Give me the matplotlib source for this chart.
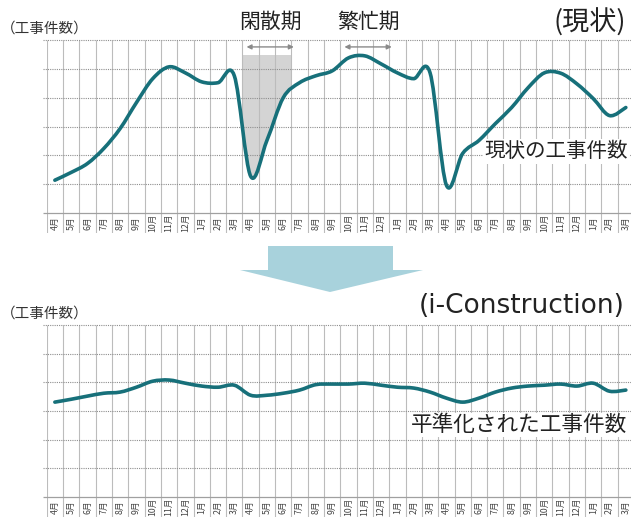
import numpy as np
import matplotlib.pyplot as plt
from matplotlib.path import Path
from matplotlib.patches import PathPatch, Polygon, Rectangle

plt.rcParams['font.family'] = ['Noto Sans CJK JP', 'DejaVu Sans']

# 月ラベル (4月〜3月 を3年度分)
months = ['4月', '5月', '6月', '7月', '8月', '9月', '10月', '11月', '12月', '1月', '2月', '3月'] * 3

# 現状の工事件数 (グリッド単位)
current = [1.14, 1.41, 1.72, 2.24, 2.93, 3.83, 4.66, 5.07, 4.86, 4.55, 4.52, 4.76,
           1.28, 2.52, 4.00, 4.52, 4.76, 4.93, 5.38, 5.45, 5.17, 4.86, 4.66, 4.86,
           0.97, 2.07, 2.52, 3.10, 3.66, 4.34, 4.86, 4.85, 4.48, 3.97, 3.38, 3.66]

# 平準化された工事件数
levelled = [3.31, 3.41, 3.52, 3.62, 3.66, 3.83, 4.04, 4.08, 3.97, 3.87, 3.83, 3.90,
            3.55, 3.55, 3.62, 3.73, 3.92, 3.94, 3.94, 3.97, 3.90, 3.83, 3.80, 3.66,
            3.45, 3.31, 3.45, 3.66, 3.80, 3.87, 3.90, 3.94, 3.87, 3.97, 3.69, 3.73]

# 閑散期・繁忙期 (月インデックスの範囲)
quiet = (12, 15)
busy = (18, 21)

W, H = 631, 522
LINE = '#17707a'


def box(left, top, right, bottom):
    return [left / W, 1 - bottom / H, (right - left) / W, (bottom - top) / H]


def smooth_path(x, y):
    # Catmull-Rom -> 3次ベジェ
    p = np.column_stack([x, y])
    q = np.vstack([p[0], p, p[-1]])
    verts = [p[0]]
    codes = [Path.MOVETO]
    for i in range(len(p) - 1):
        p0, p1, p2, p3 = q[i], q[i + 1], q[i + 2], q[i + 3]
        verts += [p1 + (p2 - p0) / 6, p2 - (p3 - p1) / 6, p2]
        codes += [Path.CURVE4] * 3
    return Path(np.array(verts), codes)


def panel(ax, values, depth):
    n = len(months)
    ax.set_xlim(0, n)
    ax.set_ylim(-depth, 6)
    ax.axis('off')
    ax.vlines(np.arange(n + 1), -depth, 6, color='#bcbcbc', lw=0.8)
    ax.hlines(np.arange(1, 7), -0.2, n, color='#8e8e8e', lw=0.8, linestyles=(0, (1, 1)),
              clip_on=False)
    ax.hlines(0, -0.2, n, color='#a0a0a0', lw=0.9, clip_on=False)
    for i, m in enumerate(months):
        ax.text(i + 0.5, -depth / 2, m, rotation=90, ha='center', va='center',
                fontsize=6.3, color='#444444')
    x = np.arange(n) + 0.5
    path = smooth_path(x, np.array(values))
    ax.add_patch(PathPatch(path, fill=False, edgecolor=LINE, lw=2.6,
                           capstyle='round', joinstyle='round', zorder=5))
    return path


fig = plt.figure(figsize=(W / 100, H / 100), dpi=100)
fig.patch.set_facecolor('white')

ax1 = fig.add_axes(box(46.7, 40, 634, 233))
curve = panel(ax1, current, 20 / 29)

# 閑散期の網掛け (曲線より上側)
area = Path(np.vstack([curve.vertices, [[36, 10], [0, 10], [0, 10]]]),
            list(curve.codes) + [Path.LINETO, Path.LINETO, Path.CLOSEPOLY])
clip = PathPatch(area, transform=ax1.transData)
shade = Rectangle((quiet[0], 0), quiet[1] - quiet[0], 5.48, facecolor='#d4d4d4',
                  edgecolor='none', zorder=1)
ax1.add_patch(shade)
shade.set_clip_path(clip)

for (a, b), label in [(quiet, '閑散期'), (busy, '繁忙期')]:
    ax1.annotate('', xy=(a + 0.25, 5.76), xytext=(b + 0.15, 5.76),
                 arrowprops=dict(arrowstyle='<|-|>', color='#8a8a8a', lw=1.0,
                                 mutation_scale=7, shrinkA=0, shrinkB=0),
                 annotation_clip=False)
    ax1.text((a + b) / 2 + 0.2, 6.62, label, ha='center', va='center',
             fontsize=15, color='#222222', clip_on=False)

ax1.text(26.85, 2.14, '現状の工事件数', ha='left', va='center', fontsize=14.8,
         color='#222222', zorder=6,
         bbox=dict(facecolor='white', edgecolor='none', pad=1))

ax2 = fig.add_axes(box(46.7, 325, 634, 517))
panel(ax2, levelled, 20 / 28.7)
ax2.text(22.3, 2.51, '平準化された工事件数', ha='left', va='center', fontsize=15.6,
         color='#222222', zorder=6,
         bbox=dict(facecolor='white', edgecolor='none', pad=1))

# 見出し
fig.text(1 / W, 1 - 29 / H, '（工事件数）', ha='left', va='center', fontsize=10.5, color='#333333')
fig.text(1 / W, 1 - 314 / H, '（工事件数）', ha='left', va='center', fontsize=10.5, color='#333333')
fig.text(553 / W, 1 - 23 / H, '(現状)', ha='left', va='center', fontsize=19.5, color='#222222')
fig.text(419 / W, 1 - 306 / H, '(i-Construction)', ha='left', va='center', fontsize=19,
         color='#222222', family=['DejaVu Sans'])

# 中央の下向き矢印
arrow = [(268, 246), (393, 246), (393, 270), (423, 270), (330, 292), (240, 270), (268, 270)]
fig.add_artist(Polygon([(x / W, 1 - y / H) for x, y in arrow], closed=True,
                       transform=fig.transFigure, facecolor='#a8d2dc', edgecolor='none'))

fig.savefig('out.png', dpi=100)
